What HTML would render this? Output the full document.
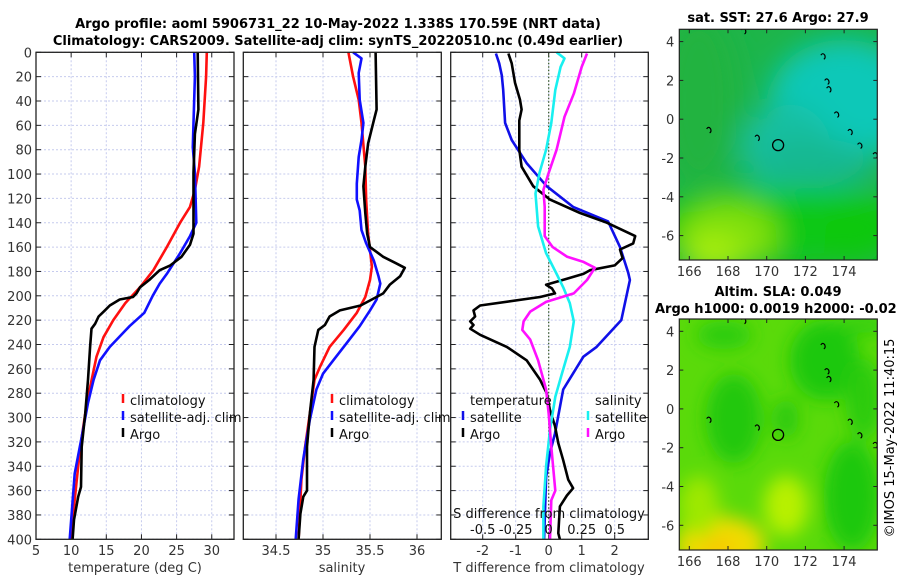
<!DOCTYPE html>
<html><head><meta charset="utf-8"><style>
html,body{margin:0;padding:0;background:#fff;}
svg{display:block;font-family:"DejaVu Sans","Liberation Sans",sans-serif;}
</style></head><body>
<svg id="fig" width="900" height="580" viewBox="0 0 900 580" xmlns="http://www.w3.org/2000/svg">
<defs>
<filter id="blur1" x="-50%" y="-50%" width="200%" height="200%"><feGaussianBlur stdDeviation="14"/></filter>
<filter id="blur2" x="-50%" y="-50%" width="200%" height="200%"><feGaussianBlur stdDeviation="9"/></filter>
<clipPath id="clipm1"><rect x="679.3" y="29.3" width="198" height="230.7"/></clipPath>
<clipPath id="clipm2"><rect x="679.3" y="319" width="198" height="231"/></clipPath>
</defs>
<text x="338" y="28" font-size="13" font-weight="bold" text-anchor="middle">Argo profile: aoml 5906731_22 10-May-2022 1.338S 170.59E (NRT data)</text>
<text x="338" y="45" font-size="13" font-weight="bold" text-anchor="middle">Climatology: CARS2009. Satellite-adj clim: synTS_20220510.nc (0.49d earlier)</text>
<g id="p1"></g>
<g id="p2"></g>
<g id="p3"></g>
<g id="m1"></g>
<g id="m2"></g>
<text transform="translate(894,438) rotate(-90)" font-size="13" text-anchor="middle">©IMOS 15-May-2022 11:40:15</text>
</svg>
<script>
// ---- data ----
const depthTicks=[0,20,40,60,80,100,120,140,160,180,200,220,240,260,280,300,320,340,360,380,400];
const tTicks=[5,10,15,20,25,30];
const sTicks=[34.5,35,35.5,36];
const dTTicks=[-2,-1,0,1,2];
const dSTickLabels=["-0.5","-0.25","0","0.25","0.5"];
const dSTicks=[-0.5,-0.25,0,0.25,0.5];

const tClimD=[0,20,58,94,113,127,140,160,179,187,193,206,220,234,250,275,297,324,351,379,400];
const tClimV=[29.3,29.2,28.8,28.2,27.6,26.9,25.5,23.6,21.7,20.6,19.8,17.7,16.0,14.6,13.6,12.7,12.0,11.3,10.8,10.3,10.1];
const tSatD=[0,20,58,78,99,140,151,165,182,190,200,214,225,242,253,269,288,316,346,400];
const tSatV=[27.5,27.6,27.4,27.3,27.6,27.8,26.9,25.5,23.6,22.6,21.6,20.4,18.3,15.5,14.1,13.2,12.4,11.5,10.5,9.8];
const tArgoD=[0,47,67,99,149,158,168,175,179,187,193,198,201,203,208,212,217,223,227,242,269,297,324,357,365,384,400];
const tArgoV=[28.0,28.1,27.6,27.4,27.4,26.9,25.7,24.1,22.6,21.1,19.8,19.3,18.8,16.9,15.5,14.8,13.9,13.4,12.9,12.7,12.4,12.0,11.5,11.4,11.0,10.4,10.2];

const sClimD=[0,20,39,58,94,122,149,176,187,201,214,228,242,258,269,297,324,351,400];
const sClimV=[35.27,35.32,35.38,35.41,35.45,35.46,35.48,35.52,35.5,35.45,35.36,35.22,35.07,34.97,34.91,34.86,34.81,34.77,34.74];
const sSatD=[0,5,17,39,58,72,86,108,121,130,146,157,171,184,190,203,212,225,239,253,264,277,302,334,367,400];
const sSatV=[35.32,35.41,35.38,35.39,35.43,35.41,35.38,35.36,35.36,35.39,35.41,35.46,35.54,35.59,35.61,35.57,35.5,35.39,35.25,35.11,35.0,34.93,34.86,34.79,34.74,34.71];
const sArgoD=[0,47,56,75,94,110,132,149,160,168,173,177,184,191,198,208,212,217,224,228,242,269,297,324,360,365,379,400];
const sArgoV=[35.56,35.57,35.54,35.48,35.45,35.43,35.45,35.47,35.5,35.64,35.77,35.87,35.82,35.71,35.64,35.4,35.18,35.07,35.02,34.95,34.91,34.9,34.86,34.83,34.83,34.79,34.76,34.74];

const dTSatD=[1,9,19,31,58,72,91,110,127,139,160,181,187,220,242,250,277,313,329,349,400];
const dTSatV=[-1.6,-1.5,-1.42,-1.38,-1.32,-1.12,-0.67,-0.06,0.74,1.8,2.16,2.41,2.46,2.2,1.45,1.05,0.44,0.19,0.04,-0.08,-0.14];
const dTArgoD=[1,9,25,39,47,56,80,94,110,121,132,140,151,157,162,169,175,179,182,186,191,194,198,201,208,212,217,221,224,227,232,242,253,269,280,294,307,321,335,351,358,364,373,395,400];
const dTArgoV=[-1.22,-1.12,-1.02,-0.87,-0.82,-0.89,-0.89,-0.82,-0.47,0.04,0.95,1.76,2.62,2.56,2.16,2.24,2.0,1.25,1.05,0.55,-0.08,0.1,0.19,-0.26,-2.08,-2.28,-2.23,-2.38,-2.28,-2.38,-2.08,-1.27,-0.67,-0.26,-0.06,0.04,0.19,0.29,0.44,0.59,0.74,0.55,0.34,0.29,0.34];
const dSSatD=[0,5,12,31,58,80,99,116,143,165,182,193,206,221,242,264,283,310,340,373,400];
const dSSatV=[0.06,0.12,0.09,0.05,0.02,-0.02,-0.07,-0.10,-0.08,-0.02,0.06,0.11,0.16,0.19,0.16,0.10,0.05,0.01,-0.02,-0.04,-0.04];
const dSArgoD=[1,12,34,53,80,99,113,127,151,160,168,172,177,187,198,205,213,221,228,236,253,277,297,324,360,368,400];
const dSArgoV=[0.29,0.25,0.19,0.12,0.06,0.0,-0.04,-0.03,-0.03,0.03,0.14,0.26,0.35,0.29,0.19,-0.02,-0.14,-0.19,-0.2,-0.14,-0.08,-0.02,0.0,0.02,0.05,0.02,0.01];

const lonTicks=[166,168,170,172,174];
const latTicks=[4,2,0,-2,-4,-6];
const argoLon=170.59, argoLat=-1.338;

// ---- helpers ----
const NS="http://www.w3.org/2000/svg";
function mk(parent,tag,attrs,text){const e=document.createElementNS(NS,tag);for(const k in attrs)e.setAttribute(k,attrs[k]);if(text!==undefined)e.textContent=text;parent.appendChild(e);return e;}
const Y0=52.3,Y1=539.3;
const yD=d=>Y0+(d/400)*(Y1-Y0);
function panel(g,x0,x1,xs,ticks,labels,showY){
  for(const t of ticks){const x=xs(t);
    const gl=mk(g,'line',{x1:x,x2:x,y1:Y0,y2:Y1,stroke:'#c6cbee','stroke-width':1,'stroke-dasharray':'2,2'});
    }
  for(const d of depthTicks){const y=yD(d);
    const gl=mk(g,'line',{x1:x0,x2:x1,y1:y,y2:y,stroke:'#c6cbee','stroke-width':1,'stroke-dasharray':'2,2'});
    
    mk(g,'line',{x1:x0,x2:x0+5,y1:y,y2:y,stroke:'#222'});mk(g,'line',{x1:x1-5,x2:x1,y1:y,y2:y,stroke:'#222'});
    if(showY){const tl=mk(g,'text',{x:x0-4,y:y+5,'font-size':13,'text-anchor':'end',fill:'#333'},String(d));
      }}
  ticks.forEach((t,i)=>{const x=xs(t);
    mk(g,'line',{x1:x,x2:x,y1:Y1,y2:Y1-5,stroke:'#222'});mk(g,'line',{x1:x,x2:x,y1:Y0,y2:Y0+5,stroke:'#222'});
    if(labels){const tl=mk(g,'text',{x:x,y:555,'font-size':13,'text-anchor':'middle',fill:'#333'},labels[i]);
      }});
}
function frame(g,x0,x1){const r=mk(g,'rect',{x:x0,y:Y0,width:x1-x0,height:Y1-Y0,fill:'none',stroke:'#222','stroke-width':1.3});
  }
function line(g,xs,D,V,color,name){const pts=D.map((d,i)=>xs(V[i]).toFixed(1)+','+yD(d).toFixed(1)).join(' ');
  const p=mk(g,'polyline',{points:pts,fill:'none',stroke:color,'stroke-width':2.6,'stroke-linejoin':'round'});
  return p;}
function legend(g,x,y,color,label,name){
  mk(g,'line',{x1:x,x2:x,y1:y-11,y2:y-2,stroke:color,'stroke-width':2.5});
  const t=mk(g,'text',{x:x+7,y:y,'font-size':13,fill:'#111'},label);
  }

// panel 1
const p1=document.getElementById('p1');
const xT=t=>36+(t-5)*7.03;
panel(p1,36,234,xT,tTicks,tTicks.map(String),true);
line(p1,xT,tClimD,tClimV,'#ff1010','temperature-climatology-line');
line(p1,xT,tSatD,tSatV,'#1010ff','temperature-satellite-line');
line(p1,xT,tArgoD,tArgoV,'#000','temperature-argo-line');
frame(p1,36,234);
legend(p1,123,405,'#ff1010','climatology','legend-climatology');
legend(p1,123,422,'#1010ff','satellite-adj. clim','legend-satellite-adj');
legend(p1,123,439,'#000','Argo','legend-argo');
let t=mk(p1,'text',{x:135,y:572,'font-size':13,'text-anchor':'middle',fill:'#333'},'temperature (deg C)');


// panel 2
const p2=document.getElementById('p2');
const xS=s=>276+(s-34.5)*94;
panel(p2,243.3,441.3,xS,sTicks,sTicks.map(String),false);
line(p2,xS,sClimD,sClimV,'#ff1010','salinity-climatology-line');
line(p2,xS,sSatD,sSatV,'#1010ff','salinity-satellite-line');
line(p2,xS,sArgoD,sArgoV,'#000','salinity-argo-line');
frame(p2,243.3,441.3);
legend(p2,332,405,'#ff1010','climatology','legend-climatology');
legend(p2,332,422,'#1010ff','satellite-adj. clim','legend-satellite-adj');
legend(p2,332,439,'#000','Argo','legend-argo');
t=mk(p2,'text',{x:342,y:572,'font-size':13,'text-anchor':'middle',fill:'#333'},'salinity');


// panel 3
const p3=document.getElementById('p3');
const xDT=v=>548.7+v*33;
const xDS=v=>548.7+v*132;
panel(p3,450.7,648.3,xDT,dTTicks,dTTicks.map(String),false);
let zl=mk(p3,'line',{x1:xDT(0),x2:xDT(0),y1:Y0,y2:Y1,stroke:'#335522','stroke-width':1.2,'stroke-dasharray':'1.5,2'});

line(p3,xDT,dTSatD,dTSatV,'#1010e8','dT-satellite-line');
line(p3,xDT,dTArgoD,dTArgoV,'#000','dT-argo-line');
line(p3,xDS,dSSatD,dSSatV,'#18f0f0','dS-satellite-line');
line(p3,xDS,dSArgoD,dSArgoV,'#ff10ff','dS-argo-line');
frame(p3,450.7,648.3);
t=mk(p3,'text',{x:470,y:405,'font-size':13,fill:'#111'},'temperature');
t=mk(p3,'text',{x:595,y:405,'font-size':13,fill:'#111'},'salinity');
legend(p3,463,422,'#1010e8','satellite','legend-t-satellite');
legend(p3,463,439,'#000','Argo','legend-t-argo');
legend(p3,588,422,'#18f0f0','satellite','legend-s-satellite');
legend(p3,588,439,'#ff10ff','Argo','legend-s-argo');
t=mk(p3,'text',{x:549,y:518,'font-size':13,'text-anchor':'middle',fill:'#111'},'S difference from climatology');

dSTicks.forEach((v,i)=>{const tl=mk(p3,'text',{x:xDS(v),y:534,'font-size':13,'text-anchor':'middle',fill:'#111'},dSTickLabels[i]);
  });
t=mk(p3,'text',{x:549,y:572,'font-size':13,'text-anchor':'middle',fill:'#333'},'T difference from climatology');


// maps
const MX0=679.3,MX1=877.3;
const lx=l=>689.3+(l-166)*19.35;
function map(g,top,bot,clip,base,blobs,blurId){
  const ly=l=>top+12.3+(4-l)*19.4;
  const cg=mk(g,'g',{'clip-path':'url(#'+clip+')'});
  const bg=mk(cg,'rect',{x:MX0,y:top,width:MX1-MX0,height:bot-top,fill:base});
  
  const bl=mk(cg,'g',{filter:'url(#'+blurId+')'});
  for(const b of blobs){mk(bl,'ellipse',{cx:lx(b[0]),cy:ly(b[1]),rx:b[2],ry:b[3],fill:b[4]});}
  // islands
  const isl=[[172.9,3.3],[173.1,2],[173.2,1.6],[173.6,0.3],[174.3,-0.6],[174.8,-1.3],[175.6,-1.8],[167,-0.5],[169.5,-0.9],[168.8,4.6]];
  for(const p of isl){mk(cg,'path',{d:`M${lx(p[0])-2},${ly(p[1])} q2,-3 4,0 q1,3 -1,4`,fill:'none',stroke:'#000','stroke-width':1.2});}
  const c=mk(g,'circle',{cx:lx(argoLon),cy:ly(argoLat),r:5.5,fill:'none',stroke:'#000','stroke-width':1.3});
  
  const fr=mk(g,'rect',{x:MX0,y:top,width:MX1-MX0,height:bot-top,fill:'none',stroke:'#222','stroke-width':1.2});
  
  for(const l of lonTicks){const x=lx(l);
    mk(g,'line',{x1:x,x2:x,y1:top,y2:top+4,stroke:'#222'});mk(g,'line',{x1:x,x2:x,y1:bot,y2:bot-4,stroke:'#222'});
    const tl=mk(g,'text',{x:x,y:bot+16,'font-size':13,'text-anchor':'middle',fill:'#333'},String(l));
    }
  for(const l of latTicks){const y=ly(l);
    mk(g,'line',{x1:MX0,x2:MX0+4,y1:y,y2:y,stroke:'#222'});mk(g,'line',{x1:MX1,x2:MX1-4,y1:y,y2:y,stroke:'#222'});
    const tl=mk(g,'text',{x:MX0-5,y:y+5,'font-size':13,'text-anchor':'end',fill:'#333'},String(l));
    }
}
const m1=document.getElementById('m1');
map(m1,29.3,260,'clipm1','#1db54a',[
 [166.5,1,40,90,'#22b340'],[174,1,75,60,'#10c8b8'],[171,-1.5,45,45,'#12bfa2'],[172.5,-2.3,60,25,'#18b890'],
 [171,-5.5,140,38,'#10c818'],[168,-6,50,35,'#80e010'],[167.2,-7,30,20,'#a8ee10'],[174.5,-6,30,30,'#08c810']
],'blur1');
t=mk(m1,'text',{x:778,y:22,'font-size':13,'font-weight':'bold','text-anchor':'middle'},'sat. SST: 27.6 Argo: 27.9');

const m2=document.getElementById('m2');
map(m2,319,550,'clipm2','#5ada0a',[
 [168.3,-0.5,28,45,'#22c810'],[167.8,3.8,28,14,'#2ccc10'],[173,2.5,35,40,'#1cc80c'],[175,0.5,18,40,'#2acb10'],
 [174.4,-4.5,28,55,'#1ac80c'],[171,-0.5,12,20,'#26c810'],[175,4.3,30,8,'#2ccc10'],
 [171,-5,22,30,'#b8f000'],[167.6,-7,45,28,'#f0dc00'],[166.5,-5,20,30,'#9ee800'],[167.5,-7.2,18,10,'#f8c800']
],'blur2');
t=mk(m2,'text',{x:778,y:296,'font-size':13,'font-weight':'bold','text-anchor':'middle'},'Altim. SLA: 0.049');

t=mk(m2,'text',{x:655,y:313,'font-size':13,'font-weight':'bold'},'Argo h1000: 0.0019 h2000: -0.02');

</script>
</body></html>
